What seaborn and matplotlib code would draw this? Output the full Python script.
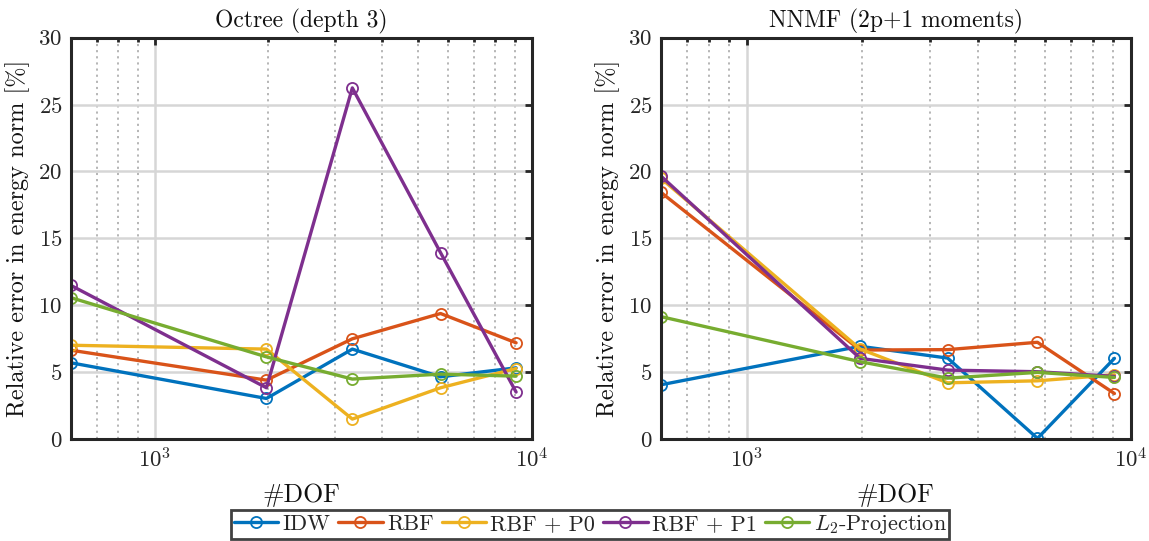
import numpy as np
import pandas as pd
import matplotlib
matplotlib.use("Agg")
import matplotlib.pyplot as plt
import seaborn as sns
from matplotlib.ticker import LogLocator, NullFormatter, MultipleLocator

# Degrees of freedom of the five meshes
dof = [597.5, 1975, 3338, 5720, 9075]

methods = ["IDW", "RBF", "RBF + P0", "RBF + P1", r"$L_2$-Projection"]
colors = ["#0072BD", "#D95319", "#EDB120", "#7E2F8E", "#77AC30"]

# Relative error in energy norm [%] -- Octree (depth 3)
octree_idw = [5.70, 3.03, 6.72, 4.65, 5.32]
octree_rbf = [6.64, 4.40, 7.49, 9.38, 7.19]
octree_rbf_p0 = [7.01, 6.72, 1.49, 3.83, 5.27]
octree_rbf_p1 = [11.49, 3.83, 26.24, 13.93, 3.51]
octree_l2 = [10.57, 6.14, 4.48, 4.85, 4.70]

# Relative error in energy norm [%] -- NNMF (2p+1 moments)
nnmf_idw = [4.05, 6.93, 6.05, 0.05, 6.03]
nnmf_rbf = [18.45, 6.65, 6.68, 7.23, 3.40]
nnmf_rbf_p0 = [19.50, 6.73, 4.20, 4.35, 4.80]
nnmf_rbf_p1 = [19.67, 6.03, 5.15, 5.03, 4.68]
nnmf_l2 = [9.15, 5.78, 4.55, 4.98, 4.60]

panels = [
    ("Octree (depth 3)", [octree_idw, octree_rbf, octree_rbf_p0, octree_rbf_p1, octree_l2]),
    ("NNMF (2p+1 moments)", [nnmf_idw, nnmf_rbf, nnmf_rbf_p0, nnmf_rbf_p1, nnmf_l2]),
]

sns.set_theme(style="white")
plt.rcParams.update({
    "font.family": "serif",
    "font.serif": ["cmr10", "DejaVu Serif"],
    "mathtext.fontset": "cm",
    "axes.formatter.use_mathtext": True,
    "axes.unicode_minus": False,
})

fig = plt.figure(figsize=(11.49, 5.41), dpi=100)
axes = [
    fig.add_axes([0.0615, 0.1885, 0.4015, 0.742]),
    fig.add_axes([0.5750, 0.1885, 0.4090, 0.742]),
]

spine_col = "#262626"
for ax, (title, series) in zip(axes, panels):
    for name, vals, col in zip(methods, series, colors):
        df = pd.DataFrame({"dof": dof, "err": vals})
        sns.lineplot(data=df, x="dof", y="err", ax=ax, color=col, lw=2.4,
                     marker="o", markersize=8, markerfacecolor="none",
                     markeredgecolor=col, markeredgewidth=1.3, label=name,
                     legend=False)
    ax.set_xscale("log")
    ax.set_xlim(dof[0], 1e4)
    ax.set_ylim(0, 30)
    ax.yaxis.set_major_locator(MultipleLocator(5))
    ax.xaxis.set_major_locator(LogLocator(base=10, numticks=10))
    ax.xaxis.set_minor_locator(LogLocator(base=10, subs=np.arange(2, 10), numticks=20))
    ax.xaxis.set_minor_formatter(NullFormatter())
    ax.grid(True, which="major", axis="both", color="#d6d6d6", lw=1.8, ls="-")
    ax.grid(True, which="minor", axis="x", color="#b0b0b0", lw=1.3, ls=(0, (1.2, 2.2)))
    ax.set_axisbelow(True)
    for s in ax.spines.values():
        s.set_visible(True)
        s.set_color(spine_col)
        s.set_linewidth(2.2)
    ax.tick_params(which="both", direction="in", top=True, right=True,
                   color=spine_col, width=2.0)
    ax.tick_params(which="major", length=5, labelsize=16.5, pad=6, labelcolor="#262626")
    ax.tick_params(which="minor", length=3)
    ax.set_title(title, fontsize=17, pad=7, color="#111111")
    ax.set_xlabel("#DOF", fontsize=18.5, labelpad=8, color="#111111")
    ax.set_ylabel("Relative error in energy norm [%]", fontsize=17.5, labelpad=6,
                  color="#111111")

handles, labels = axes[0].get_legend_handles_labels()
leg = fig.legend(handles, labels, loc="lower center", ncol=5,
                 bbox_to_anchor=(0.5135, 0.0), fontsize=16, frameon=True,
                 fancybox=False, edgecolor="#111111", handlelength=2.0,
                 handletextpad=0.2, columnspacing=0.35, borderpad=0.12,
                 borderaxespad=0.1)
leg.get_frame().set_linewidth(2.0)

fig.savefig("out.png", dpi=100)
